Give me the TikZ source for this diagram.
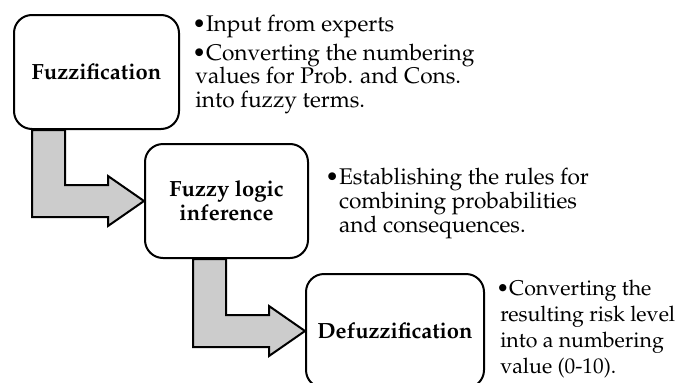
\documentclass[tikz,border=0pt]{standalone}
\usepackage[T1]{fontenc}
\usepackage{mathpazo}
\usetikzlibrary{calc,positioning}
\definecolor{arrowgray}{RGB}{204,204,204}
\tikzset{
    stage-box/.style = {draw=black, fill=white, line width=1.5pt, rectangle, rounded corners=13.5pt, minimum height=85.5pt, align=center, font=\fontsize{16.5}{18}\selectfont\bfseries},
    stage-arrow/.style = {draw=black, fill=arrowgray, line width=1.5pt, line join=miter},
    note-text/.style = {align=left, inner sep=0pt, anchor=north west, font=\fontsize{17}{17.5}\selectfont},
}
\newcommand{\stagearrow}[2]{%
    \draw[stage-arrow] (#2.west) -- ++(-36,-25) -- ++(0,9) -- ++(-43,0) coordinate (bend)
        -- (bend |- #1.south) -- ++(-33,0) coordinate (back)
        -- ($(back |- #2.west)+(0,16)$) -- ++(76,0) -- ++(0,9) -- cycle;}

\begin{document}
\begin{tikzpicture}[x=0.75pt, y=-0.75pt]
\useasboundingbox (0,0) rectangle (680,382);
\clip (0,0) rectangle (680,382);
\node [stage-box, minimum width=123.75pt] (fuzz) at (96.5,72) {Fuzzification};
\node [stage-box, minimum width=122.25pt] (infer) at (226.5,201) {Fuzzy logic\\inference};
\node [stage-box, minimum width=133.5pt] (defuzz) at (395,331) {Defuzzification};
\stagearrow{fuzz}{infer}
\stagearrow{infer}{defuzz}
\node [note-text] (fuzz-note) at (192,15) {\textbullet Input from experts\\[4pt]
    \textbullet Converting the numbering\\
    \hspace*{2.25pt}values for Prob. and Cons.\\
    \hspace*{2.25pt}into fuzzy terms.};
\node [note-text] (infer-note) at (325,168) {\textbullet Establishing the rules for\\[0.5pt]
    \phantom{\textbullet}combining probabilities\\[0.5pt]
    \phantom{\textbullet}and consequences.};
\node [note-text, font=\fontsize{16}{17.5}\selectfont] (defuzz-note) at (496,280) {\textbullet Converting the\\[2pt]
    \hspace*{3pt}resulting risk level\\[2pt]
    \hspace*{3pt}into a numbering\\[2pt]
    \hspace*{3pt}value (0-10).};
\end{tikzpicture}
\end{document}
